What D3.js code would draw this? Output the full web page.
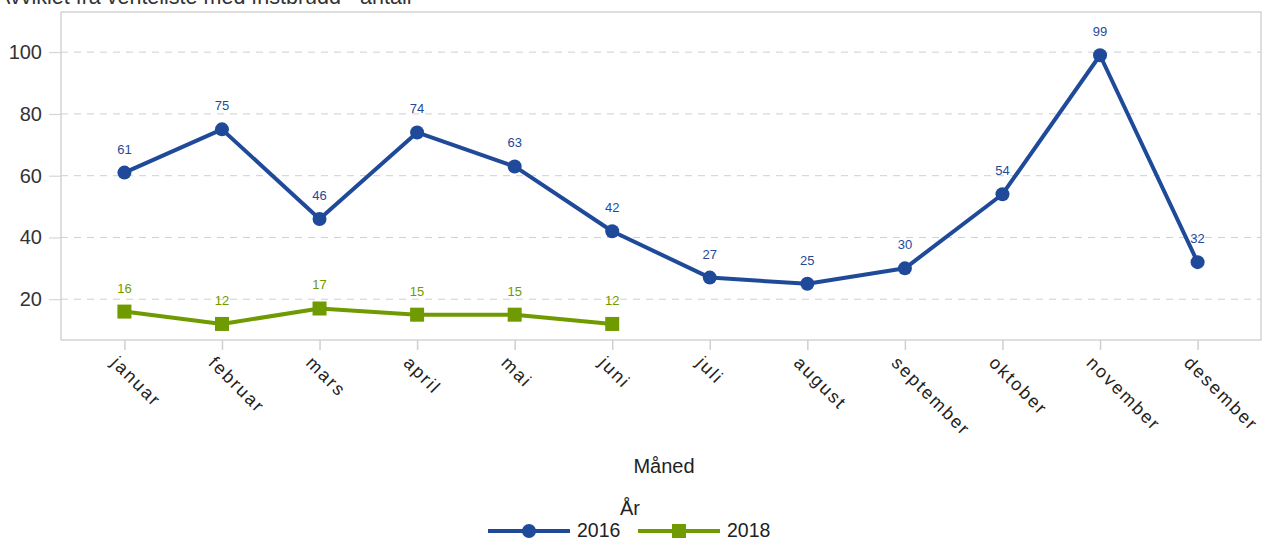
<!DOCTYPE html>
<html>
<head>
<meta charset="utf-8">
<script src="https://cdn.jsdelivr.net/npm/d3@7"></script>
<style>
  body { margin: 0; background: #fff; }
  svg { display: block; font-family: Arial, "Liberation Sans", sans-serif; }
</style>
</head>
<body>
<svg id="chart" width="1262" height="541"></svg>
<script>
const months = ["januar", "februar", "mars", "april", "mai", "juni", "juli", "august", "september", "oktober", "november", "desember"];
const values2016 = [61, 75, 46, 74, 63, 42, 27, 25, 30, 54, 99, 32];
const values2018 = [16, 12, 17, 15, 15, 12];
const yTicks = [20, 40, 60, 80, 100];

const series = [
  { name: "2016", values: values2016, color: "#1f4a99", shape: "circle" },
  { name: "2018", values: values2018, color: "#6f9a00", shape: "square" }
];

const width = 1262, height = 541;
const margin = { top: 12, right: 1, bottom: 201, left: 61 };

const svg = d3.select("#chart");

// title, cut off at the top like the source image
svg.append("text")
  .attr("x", -4)
  .attr("y", 4)
  .attr("font-size", 21.5)
  .attr("fill", "#333")
  .text("Avviklet fra venteliste med fristbrudd - antall");

const x = d3.scalePoint()
  .domain(months)
  .range([margin.left, width - margin.right])
  .padding(0.65);

const y = d3.scaleLinear()
  .domain([6.8, 113])
  .range([height - margin.bottom, margin.top]);

// plot frame
svg.append("rect")
  .attr("x", margin.left)
  .attr("y", margin.top)
  .attr("width", width - margin.right - margin.left)
  .attr("height", height - margin.bottom - margin.top)
  .attr("fill", "none")
  .attr("stroke", "#d4d4d4")
  .attr("stroke-width", 1.5);

// grid lines
svg.append("g")
  .selectAll("line")
  .data(yTicks)
  .join("line")
  .attr("x1", margin.left)
  .attr("x2", width - margin.right)
  .attr("y1", d => y(d))
  .attr("y2", d => y(d))
  .attr("stroke", "#cfcfcf")
  .attr("stroke-width", 1)
  .attr("stroke-dasharray", "7,6");

// y axis
svg.append("g")
  .attr("transform", `translate(${margin.left},0)`)
  .call(d3.axisLeft(y).tickValues(yTicks).tickSize(12).tickPadding(7))
  .call(g => g.select(".domain").remove())
  .call(g => g.selectAll(".tick line").attr("stroke", "#cfcfcf"))
  .call(g => g.selectAll(".tick text")
    .attr("font-size", 20)
    .attr("font-family", "Arial, 'Liberation Sans', sans-serif")
    .attr("fill", "#333"));

// x axis
svg.append("g")
  .attr("transform", `translate(0,${height - margin.bottom})`)
  .call(d3.axisBottom(x).tickSize(10).tickSizeOuter(0))
  .call(g => g.select(".domain").remove())
  .call(g => g.selectAll(".tick line").attr("stroke", "#cfcfcf").attr("stroke-width", 1.5))
  .call(g => g.selectAll(".tick text")
    .attr("font-size", 18)
    .attr("letter-spacing", 2)
    .attr("font-family", "Arial, 'Liberation Sans', sans-serif")
    .attr("fill", "#222")
    .attr("text-anchor", "start")
    .attr("y", 0)
    .attr("dy", 0)
    .attr("transform", "translate(-15,24) rotate(45)"));

svg.append("text")
  .attr("x", (margin.left + width - margin.right) / 2 + 3)
  .attr("y", 473)
  .attr("text-anchor", "middle")
  .attr("font-size", 20)
  .attr("fill", "#222")
  .text("Måned");

// lines, markers and value labels
const line = d3.line()
  .x((d, i) => x(months[i]))
  .y(d => y(d));

series.forEach(s => {
  const g = svg.append("g");
  g.append("path")
    .datum(s.values)
    .attr("fill", "none")
    .attr("stroke", s.color)
    .attr("stroke-width", 4)
    .attr("stroke-linejoin", "round")
    .attr("d", line);

  if (s.shape === "circle") {
    g.selectAll("circle")
      .data(s.values)
      .join("circle")
      .attr("cx", (d, i) => x(months[i]))
      .attr("cy", d => y(d))
      .attr("r", 7)
      .attr("fill", s.color);
  } else {
    g.selectAll("rect")
      .data(s.values)
      .join("rect")
      .attr("x", (d, i) => x(months[i]) - 7)
      .attr("y", d => y(d) - 7)
      .attr("width", 14)
      .attr("height", 14)
      .attr("fill", s.color);
  }

  g.selectAll("text")
    .data(s.values)
    .join("text")
    .attr("x", (d, i) => x(months[i]))
    .attr("y", d => y(d) - 19)
    .attr("text-anchor", "middle")
    .attr("font-size", 13)
    .attr("fill", s.color)
    .text(d => d);
});

// legend
svg.append("text")
  .attr("x", 630)
  .attr("y", 515)
  .attr("text-anchor", "middle")
  .attr("font-size", 20)
  .attr("fill", "#222")
  .text("År");

const legend = svg.append("g").attr("transform", "translate(488,531)");
series.forEach((s, i) => {
  const lg = legend.append("g").attr("transform", `translate(${i * 150},0)`);
  lg.append("line")
    .attr("x1", 0).attr("x2", 82)
    .attr("stroke", s.color)
    .attr("stroke-width", 4);
  if (s.shape === "circle") {
    lg.append("circle").attr("cx", 41).attr("r", 7).attr("fill", s.color);
  } else {
    lg.append("rect").attr("x", 34).attr("y", -7).attr("width", 14).attr("height", 14).attr("fill", s.color);
  }
  lg.append("text")
    .attr("x", 89)
    .attr("y", 6)
    .attr("font-size", 19.5)
    .attr("fill", "#222")
    .text(s.name);
});
</script>
</body>
</html>
